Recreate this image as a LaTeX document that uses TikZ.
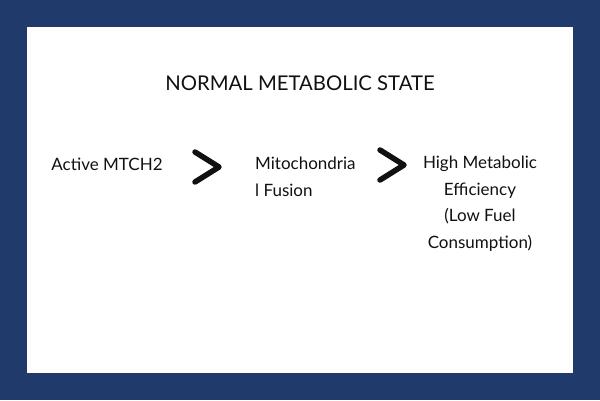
\documentclass[tikz,border=0pt]{standalone}
\usepackage{fontspec}
\usetikzlibrary{calc}
\setmainfont{Lato}
\definecolor{frame}{HTML}{1F3A6B}
\definecolor{ink}{HTML}{111111}
\begin{document}
\begin{tikzpicture}[x=1pt,y=-1pt,
  txt/.style={inner sep=0pt,font=\fontsize{17}{26.5}\selectfont,text=ink},
  chev/.style={draw=ink,line width=5.5pt,line cap=round,line join=round}]
\useasboundingbox (0,0) rectangle (600,400);
\fill[frame] (0,0) rectangle (600,400);
\fill[white] (27,27) rectangle (573,373);
\node[txt,font=\fontsize{20.3}{24}\selectfont] (title) at (300,83) {NORMAL METABOLIC STATE};
\node[txt] (a) at (107,164) {Active MTCH2};
\node[txt,align=left,anchor=north west] (b) at (255,157) {Mitochondria\\l Fusion};
\node[txt,align=center,anchor=north] (c) at (480,156) {High Metabolic\\Efficiency\\(Low Fuel\\Consumption)};
\coordinate (c1) at (207,167);
\coordinate (c2) at (392,165);
\draw[chev] ($(c1)+(-12,-15)$) -- ($(c1)+(12,0)$) -- ($(c1)+(-12,15)$);
\draw[chev] ($(c2)+(-12,-15)$) -- ($(c2)+(12,0)$) -- ($(c2)+(-12,15)$);
\end{tikzpicture}
\end{document}
